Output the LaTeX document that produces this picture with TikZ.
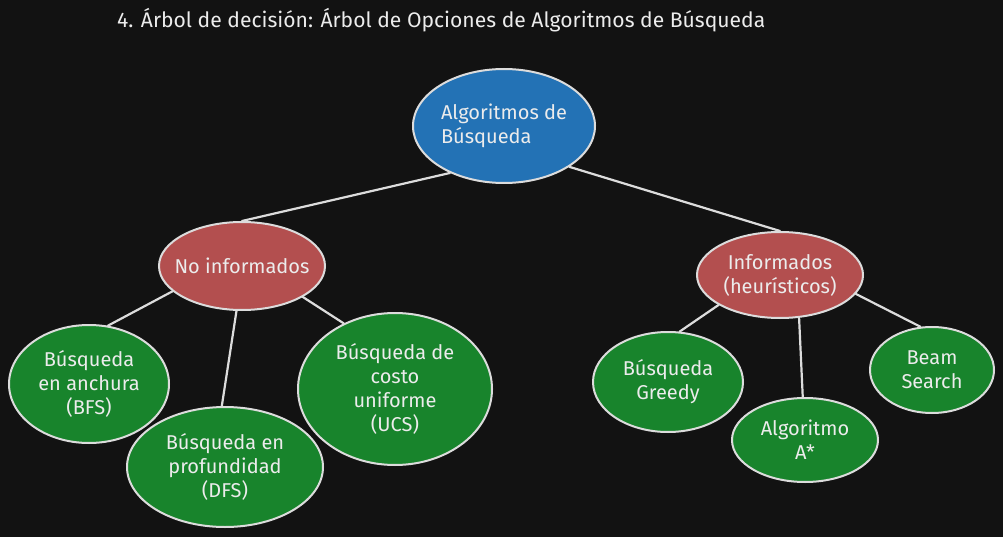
\documentclass[tikz,border=0pt]{standalone}
\usepackage{fontspec}
\setmainfont{Fira Sans}
\usetikzlibrary{shapes.geometric}
\definecolor{bg}{HTML}{121212}
\definecolor{rootblue}{HTML}{2372B5}
\definecolor{catred}{HTML}{B34F4F}
\definecolor{leafgreen}{HTML}{18842C}
\definecolor{strokegray}{HTML}{DCDCDC}
\definecolor{txt}{HTML}{ECECEC}
\tikzset{
  blob/.style={ellipse, draw=strokegray, line width=2pt, inner sep=-15pt,
    text=txt, align=center, font=\fontsize{20}{24}\selectfont},
  rootnode/.style={blob, fill=rootblue, align=left},
  catnode/.style={blob, fill=catred},
  leafnode/.style={blob, fill=leafgreen},
  link/.style={draw=strokegray, line width=2.2pt, line cap=round}
}
\begin{document}
\begin{tikzpicture}[x=1pt,y=-1pt]
\fill[bg] (0,0) rectangle (1003,537);
\useasboundingbox (0,0) rectangle (1003,537);
\node[anchor=west, text=txt, inner sep=0pt] (title) at (117,20)
  {\resizebox{648pt}{!}{\fontsize{18}{20}\selectfont 4. Árbol de decisión: Árbol de Opciones de Algoritmos de Búsqueda}};
\node[rootnode, minimum width=182pt, minimum height=114pt] (root) at (504,126) {Algoritmos de\\Búsqueda};
\node[catnode, minimum width=166pt, minimum height=88pt] (noinf) at (242,266) {No informados};
\node[catnode, minimum width=166pt, minimum height=86pt] (inf) at (780,275) {Informados\\(heurísticos)};
\node[leafnode, minimum width=160pt, minimum height=118pt] (bfs) at (89,384) {Búsqueda\\en anchura\\(BFS)};
\node[leafnode, minimum width=196pt, minimum height=120pt] (dfs) at (225,467) {Búsqueda en\\profundidad\\(DFS)};
\node[leafnode, minimum width=194pt, minimum height=152pt] (ucs) at (395,389) {Búsqueda de\\costo\\uniforme\\(UCS)};
\node[leafnode, minimum width=150pt, minimum height=100pt] (greedy) at (668,382) {Búsqueda\\Greedy};
\node[leafnode, minimum width=146pt, minimum height=84pt] (astar) at (805,440) {Algoritmo\\A*};
\node[leafnode, minimum width=124pt, minimum height=86pt] (beam) at (932,370) {Beam\\Search};
\draw[link] (root.221) -- (noinf.north);
\draw[link] (root.328) -- (inf.north);
\draw[link] (noinf.200) -- (bfs.72);
\draw[link] (noinf.263) -- (dfs.93);
\draw[link] (noinf.333) -- (ucs.128);
\draw[link] (inf.206) -- (greedy.77);
\draw[link] (inf.294) -- (astar.93);
\draw[link] (inf.346) -- (beam.105);
\end{tikzpicture}
\end{document}
